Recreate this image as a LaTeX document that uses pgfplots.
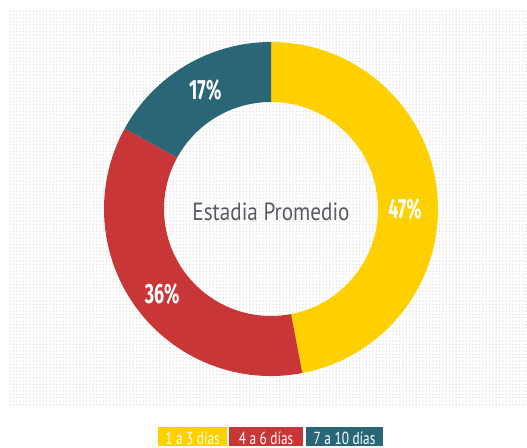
\documentclass[border=0pt]{standalone}
\usepackage{pgfplots}
\pgfplotsset{compat=1.18}
\usepackage{pgfplotstable}
\usepackage{fontspec}
\usetikzlibrary{patterns.meta}
\setmainfont{PT Sans}
\newfontfamily\pctfont[FakeStretch=0.64]{Fira Sans}
\newfontfamily\titfont[FakeStretch=0.85]{PT Sans}
\newfontfamily\legfont[FakeStretch=0.76]{PT Sans}
\definecolor{cyel}{RGB}{255,208,0}
\definecolor{cred}{RGB}{201,54,56}
\definecolor{cteal}{RGB}{40,102,120}
\definecolor{cdot}{RGB}{222,222,222}
\definecolor{ctxt}{RGB}{88,90,98}

\pgfplotstableread{
label value
{1 a 3 días} 47
{4 a 6 días} 36
{7 a 10 días} 17
}\slices

\begin{document}
\begin{tikzpicture}
\pgfplotstablegetelem{0}{value}\of\slices \let\vA\pgfplotsretval
\pgfplotstablegetelem{1}{value}\of\slices \let\vB\pgfplotsretval
\pgfplotstablegetelem{2}{value}\of\slices \let\vC\pgfplotsretval
\pgfmathsetmacro\aO{90}
\pgfmathsetmacro\aA{90-3.6*\vA}
\pgfmathsetmacro\aB{\aA-3.6*\vB}
\pgfmathsetmacro\aC{\aB-3.6*\vC}
\pgfmathsetmacro\mA{(\aO+\aA)/2}
\pgfmathsetmacro\mB{(\aA+\aB)/2}
\pgfmathsetmacro\mC{(\aB+\aC)/2}
\begin{axis}[
  x=1bp, y=1bp, xmin=0, xmax=527, ymin=0, ymax=446,
  scale only axis, hide axis, clip=false,
]
\path (axis cs:0,0) rectangle (axis cs:527,446);
\fill[pattern={Dots[distance=3.33bp, radius=0.75bp]}, pattern color=cdot]
  (axis cs:8,40) rectangle (axis cs:527,434);
\def\cx{271}\def\cy{237}\def\ro{167}\def\ri{107}\def\rm{137}
% yellow
\fill[cyel] (axis cs:{\cx+\ro*cos(\aO)},{\cy+\ro*sin(\aO)})
  arc[start angle=\aO, end angle=\aA, radius=167bp]
  -- (axis cs:{\cx+\ri*cos(\aA)},{\cy+\ri*sin(\aA)})
  arc[start angle=\aA, end angle=\aO, radius=107bp] -- cycle;
% red
\fill[cred] (axis cs:{\cx+\ro*cos(\aA)},{\cy+\ro*sin(\aA)})
  arc[start angle=\aA, end angle=\aB, radius=167bp]
  -- (axis cs:{\cx+\ri*cos(\aB)},{\cy+\ri*sin(\aB)})
  arc[start angle=\aB, end angle=\aA, radius=107bp] -- cycle;
% teal
\fill[cteal] (axis cs:{\cx+\ro*cos(\aB)},{\cy+\ro*sin(\aB)})
  arc[start angle=\aB, end angle=\aC, radius=167bp]
  -- (axis cs:{\cx+\ri*cos(\aC)},{\cy+\ri*sin(\aC)})
  arc[start angle=\aC, end angle=\aB, radius=107bp] -- cycle;
% labels
\node[white, font=\pctfont\bfseries\fontsize{28}{28}\selectfont] at (axis cs:405,237) {47\%};
\node[white, font=\pctfont\bfseries\fontsize{28}{28}\selectfont] at (axis cs:{\cx+\rm*cos(\mB)+2},{\cy+\rm*sin(\mB)-4}) {36\%};
\node[white, font=\pctfont\bfseries\fontsize{28}{28}\selectfont] at (axis cs:{\cx+\rm*cos(\mC)+4},{\cy+\rm*sin(\mC)+1}) {17\%};
\node[ctxt, font=\titfont\fontsize{25}{25}\selectfont] at (axis cs:271,234) {Estadia Promedio};
% legend
\fill[cyel] (axis cs:158,0) rectangle (axis cs:227,19);
\fill[cred] (axis cs:229,0) rectangle (axis cs:303,19);
\fill[cteal] (axis cs:306,0) rectangle (axis cs:383,19);
\node[white, font=\legfont\fontsize{17.5}{17.5}\selectfont] at (axis cs:192.5,8) {1 a 3 días};
\node[white, font=\legfont\fontsize{17.5}{17.5}\selectfont] at (axis cs:266,8) {4 a 6 días};
\node[white, font=\legfont\fontsize{17.5}{17.5}\selectfont] at (axis cs:344.5,8) {7 a 10 días};
\end{axis}
\end{tikzpicture}
\end{document}
